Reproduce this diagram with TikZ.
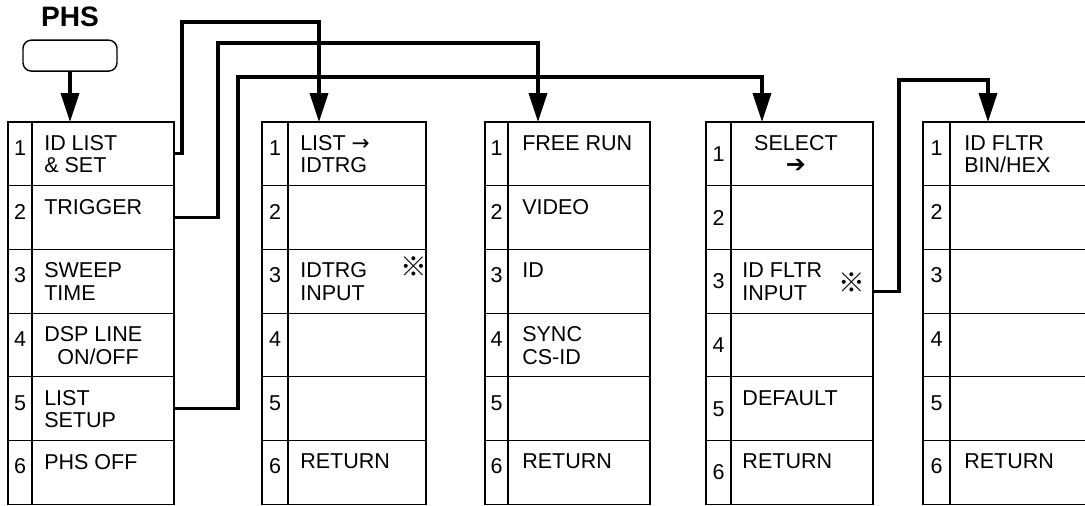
\documentclass[tikz,border=0pt]{standalone}
\usepackage{fontspec}
\setmainfont{Liberation Sans}
\newfontfamily\symfont{DejaVu Sans}
\newfontfamily\cjkfont{Noto Sans CJK JP}
\usetikzlibrary{arrows.meta, positioning}

\newcommand{\menufont}{\fontsize{15.3}{16}\selectfont}

\begin{document}
\begin{tikzpicture}[
  numcell/.style={draw, line width=0.8pt, minimum width=#1, minimum height=1.5925cm,
    inner sep=0pt, outer sep=0pt, anchor=north west},
  itemcell/.style={draw, line width=0.8pt, minimum width=#1, minimum height=1.5925cm,
    inner sep=0pt, outer sep=0pt},
  numtext/.style={font=\menufont, inner sep=0pt},
  itemtext/.style={font=\menufont, inner sep=0pt, align=left, anchor=north west},
  refmark/.style={font=\cjkfont\fontsize{19}{19}\selectfont, inner sep=0pt},
  button/.style={draw, line width=1pt, rounded corners=6pt,
    minimum width=2.35cm, minimum height=0.775cm},
  link/.style={line width=2.2pt, -{Triangle[width=0.45cm, length=0.72cm]}}
]
  \useasboundingbox (0,0) rectangle (27.125,-12.65);
  \clip (0,0) rectangle (27.125,-12.65);

  % PHS key
  \node[button] (phs) at (1.75,-1.39) {};
  \node[font=\fontsize{20}{20}\selectfont\bfseries, inner sep=0pt, above=0.32cm of phs] (phstitle) {PHS};

  % top menu
  \foreach \row/\entry in {1/{ID LIST\\\& SET}, 2/TRIGGER, 3/{SWEEP\\TIME},
      4/{DSP LINE\\\hspace*{0.33cm}ON/OFF}, 5/{LIST\\SETUP}, 6/PHS OFF} {
    \node[numcell=0.6cm] (an\row) at (0.2,{-3.05-1.5925*(\row-1)}) {};
    \node[itemcell=3.55cm, right=0pt of an\row] (a\row) {};
    \node[numtext] (na\row) at ([yshift=-0.65cm]an\row.north) {\row};
    \node[itemtext] (ta\row) at ([shift={(0.3,-0.33)}]a\row.north west) {\entry};
  }

  % list setup
  \foreach \row/\entry in {1/{LIST \symfont→\\IDTRG}, 2/{}, 3/{IDTRG\\INPUT}, 4/{}, 5/{}, 6/RETURN} {
    \node[numcell=0.65cm] (bn\row) at (6.55,{-3.05-1.5925*(\row-1)}) {};
    \node[itemcell=3.45cm, right=0pt of bn\row] (b\row) {};
    \node[numtext] (nb\row) at ([yshift=-0.65cm]bn\row.north) {\row};
    \node[itemtext] (tb\row) at ([shift={(0.3,-0.33)}]b\row.north west) {\entry};
  }
  \node[refmark] (mb3) at ([shift={(-0.3,-0.42)}]b3.north east) {※};

  % trigger
  \foreach \row/\entry in {1/FREE RUN, 2/VIDEO, 3/ID, 4/{SYNC\\CS-ID}, 5/{}, 6/RETURN} {
    \node[numcell=0.575cm] (cn\row) at (12.125,{-3.05-1.5925*(\row-1)}) {};
    \node[itemcell=3.55cm, right=0pt of cn\row] (c\row) {};
    \node[numtext] (nc\row) at ([yshift=-0.65cm]cn\row.north) {\row};
    \node[itemtext] (tc\row) at ([shift={(0.35,-0.33)}]c\row.north west) {\entry};
  }

  % id filter select
  \foreach \row/\entry in {1/{}, 2/{}, 3/{ID FLTR\\INPUT}, 4/{}, 5/DEFAULT, 6/RETURN} {
    \node[numcell=0.625cm] (dn\row) at (17.65,{-3.05-1.5925*(\row-1)}) {};
    \node[itemcell=3.55cm, right=0pt of dn\row] (d\row) {};
    \node[numtext] (nd\row) at ([yshift=-0.8cm]dn\row.north) {\row};
    \node[itemtext] (td\row) at ([shift={(0.28,-0.33)}]d\row.north west) {\entry};
  }
  \node[itemtext, align=center, anchor=north] (sel) at ([shift={(-0.15,-0.33)}]d1.north)
    {SELECT\\{\symfont\fontsize{17}{17}\selectfont ➔}};
  \node[refmark] (md3) at ([shift={(-0.525,-0.83)}]d3.north east) {※};

  % id filter bin/hex
  \foreach \row/\entry in {1/{ID FLTR\\BIN/HEX}, 2/{}, 3/{}, 4/{}, 5/{}, 6/RETURN} {
    \node[numcell=0.675cm] (en\row) at (23.075,{-3.05-1.5925*(\row-1)}) {};
    \node[itemcell=4cm, right=0pt of en\row] (e\row) {};
    \node[numtext] (ne\row) at ([yshift=-0.65cm]en\row.north) {\row};
    \node[itemtext] (te\row) at ([shift={(0.35,-0.33)}]e\row.north west) {\entry};
  }

  % links between menus
  \coordinate (k1) at (7.975,-0.55);
  \coordinate (k2) at (13.45,-1.075);
  \coordinate (k3) at (19.05,-1.925);
  \coordinate (k4) at (24.7,-2.0);
  \draw[link] (phs) -- (phs.south |- a1.north);
  \draw[link] (a1.east) -- ++(0.2,0) |- (k1) -- (k1 |- b1.north);
  \draw[link] (a2.east) -- ++(1.1,0) |- (k2) -- (k2 |- c1.north);
  \draw[link] (a5.east) -- ++(1.6,0) |- (k3) -- (k3 |- d1.north);
  \draw[link] ([yshift=-0.25cm]d3.east) -- ++(0.65,0) |- (k4) -- (k4 |- e1.north);
\end{tikzpicture}
\end{document}
